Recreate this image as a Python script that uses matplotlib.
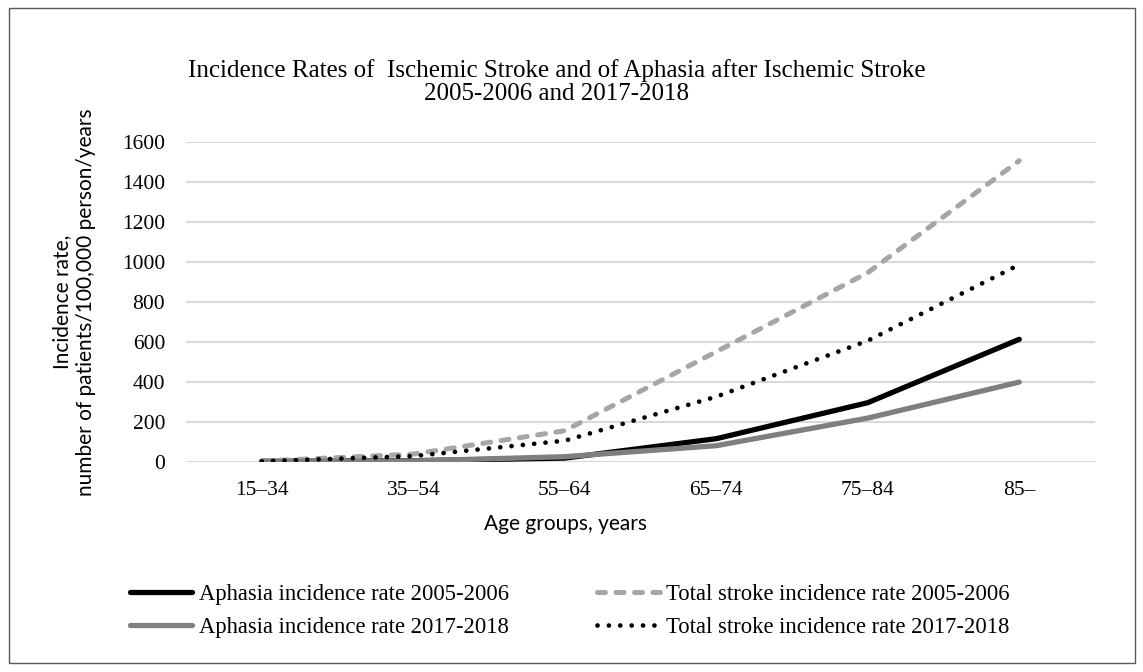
import numpy as np
import matplotlib.pyplot as plt
from matplotlib.patches import Rectangle

age_groups = ["15\u201334", "35\u201354", "55\u201364", "65\u201374", "75\u201384", "85\u2013"]
aphasia_2005 = [2, 5, 18, 115, 295, 612]
aphasia_2017 = [1, 4, 25, 80, 218, 398]
stroke_2005 = [3, 38, 155, 550, 945, 1505]
stroke_2017 = [2, 28, 105, 325, 605, 985]
yticks = [0, 200, 400, 600, 800, 1000, 1200, 1400, 1600]

serif = "Liberation Serif"
sans = "Lato"
W, H = 1143, 672

fig = plt.figure(figsize=(W / 100, H / 100), dpi=100)
# outer chart frame
fig.patches.append(Rectangle((9 / W, 1 - 663 / H), 1126 / W, 655 / H, transform=fig.transFigure,
                             fill=False, edgecolor="#595959", linewidth=1.0))

ax = fig.add_axes([186 / W, 1 - 461.7 / H, 909 / W, 320 / H])
x = np.arange(len(age_groups))

l1, = ax.plot(x, aphasia_2005, color="black", linewidth=3.8, solid_capstyle="round")
l2, = ax.plot(x, stroke_2005, color="#a6a6a6", linewidth=3.6, linestyle=(0, (1.6, 2.1)),
              dash_capstyle="round")
l3, = ax.plot(x, aphasia_2017, color="#7f7f7f", linewidth=3.8, solid_capstyle="round")
l4, = ax.plot(x, stroke_2017, color="black", linewidth=3.4, linestyle=(0, (0.01, 2.4)),
              dash_capstyle="round")

ax.set_xlim(-0.5, len(age_groups) - 0.5)
ax.set_ylim(0, 1600)
ax.set_yticks(yticks)
ax.set_yticklabels([str(v) for v in yticks], family=serif, fontsize=15.5)
ax.set_xticks(x)
ax.set_xticklabels(age_groups, family=serif, fontsize=15.5)
ax.tick_params(axis="y", length=0, pad=15)
ax.tick_params(axis="x", length=0, pad=14)
ax.yaxis.grid(True, color="#d9d9d9", linewidth=1.5)
ax.set_axisbelow(True)
for s in ax.spines.values():
    s.set_visible(False)

ax.set_xlabel("Age groups, years", family=sans, fontsize=15)
ax.xaxis.set_label_coords((565 - 186) / 909, -(514 - 461.7) / 320)
ax.set_ylabel("Incidence rate,\nnumber of patients/100,000 person/years",
              family=sans, fontsize=15, linespacing=1.25)
ax.yaxis.set_label_coords(-(186 - 96) / 909, 0.5)

fig.text(557 / W, 1 - 100 / H,
         "Incidence Rates of  Ischemic Stroke and of Aphasia after Ischemic Stroke\n2005-2006 and 2017-2018",
         ha="center", va="baseline", family=serif, fontsize=18, linespacing=1.08)

# column-wise fill: left column aphasia, right column total stroke
handles = [l1, l3, l2, l4]
labels = ["Aphasia incidence rate 2005-2006", "Aphasia incidence rate 2017-2018",
          "Total stroke incidence rate 2005-2006", "Total stroke incidence rate 2017-2018"]
fig.legend(handles, labels, loc="center left", bbox_to_anchor=(130 / W, 1 - 611 / H), ncol=2,
           frameon=False, prop={"family": serif, "size": 16.3}, handlelength=2.75,
           columnspacing=3.9, labelspacing=0.5, handletextpad=0.3,
           borderpad=0, borderaxespad=0)

fig.savefig("out.png", dpi=100)
